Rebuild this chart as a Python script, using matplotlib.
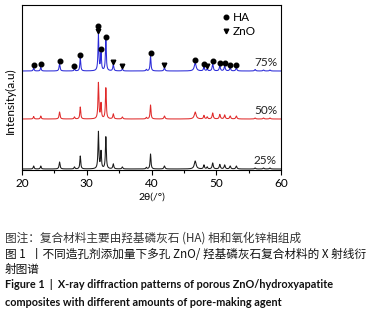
import numpy as np
import matplotlib
matplotlib.use("Agg")
import matplotlib.pyplot as plt
from matplotlib.lines import Line2D

# peak positions (2theta) and heights
peak_pos = [21.8, 22.9, 25.8, 28.1, 29.0, 31.8, 32.2, 32.95, 34.1, 35.5, 39.2,
            39.85, 42.0, 46.75, 48.1, 48.6, 49.45, 50.55, 51.3, 52.15, 53.1,
            56.0, 57.3, 58.3]
peak_w = [0.08, 0.08, 0.09, 0.08, 0.08, 0.08, 0.08, 0.08, 0.09, 0.09, 0.08,
          0.08, 0.1, 0.17, 0.09, 0.08, 0.1, 0.1, 0.1, 0.1, 0.1, 0.1, 0.1, 0.1]
h75 = [3, 3.5, 7, 2, 13, 36, 17, 31, 6, 2, 1.5, 15, 3, 8, 4, 2, 7, 5, 5, 3, 3, 1.5, 1, 1]
h50 = [2.5, 3, 7, 2, 12, 36, 15, 31, 5, 2, 1.5, 14, 3, 7, 3.5, 2, 6, 4.5, 4, 3, 3, 1, 1, 1]
h25 = [3, 3, 7, 2, 13, 37, 17, 32, 5, 2, 1.5, 15, 3, 8, 4, 2, 6, 4.5, 4, 3, 3, 1, 1, 1]
series = [("75%", h75, 99, "#2b2bd8"),
          ("50%", h50, 51, "#e02a2a"),
          ("25%", h25, 1, "#1a1a1a")]

ha_pos = [21.8, 22.9, 25.8, 28.1, 29.0, 31.8, 32.2, 32.95, 39.85, 46.75, 48.1,
          49.45, 50.55, 51.3, 52.15, 53.1]
zno_pos = [31.8, 34.1, 35.5, 42.0, 48.6]

x = np.linspace(20, 60, 4000)


def pattern(heights):
    y = np.zeros_like(x)
    for p, w, h in zip(peak_pos, peak_w, heights):
        y += h / (1 + ((x - p) / w) ** 2)
    return y


fig = plt.figure(figsize=(3.73, 3.13), dpi=100)
ax = fig.add_axes([22 / 373, 1 - 170 / 313, 259 / 373, 165 / 313])

lat = ["Lato", "DejaVu Sans"]
for label, h, base, col in series:
    y = pattern(h) + base
    ax.plot(x, y, color=col, lw=0.75)
    ax.text(57.6, base + 8, label, ha="center", va="center", fontsize=8.5,
            family=lat, color="#222222")

# phase markers on the top pattern
top = pattern(h75) + 99
for p in ha_pos:
    yy = np.interp(p, x, top)
    off = 8 if p in zno_pos else 3
    ax.plot(p, yy + off, "o", color="black", ms=3.3)
for p in zno_pos:
    yy = np.interp(p, x, top)
    ax.plot(p, yy + 3, "v", color="black", ms=3.3)

handles = [Line2D([], [], ls="", marker="o", color="black", ms=3.3),
           Line2D([], [], ls="", marker="v", color="black", ms=3.3)]
ax.legend(handles, ["HA", "ZnO"], loc="upper left", bbox_to_anchor=(0.735, 1.02),
          frameon=False, handlelength=0.5, handletextpad=0.3, labelspacing=0.2,
          prop={"family": lat, "size": 8.5})

ax.set_xlim(20, 60)
ax.set_ylim(0, 165)
ax.set_yticks([])
ax.set_xticks([20, 30, 40, 50, 60])
ax.set_xticks([25, 35, 45, 55], minor=True)
ax.tick_params(axis="x", direction="out", length=3.5, width=0.8, labelsize=8.5, pad=2)
ax.tick_params(axis="x", which="minor", length=2, width=0.8)
for lab in ax.get_xticklabels():
    lab.set_family(lat)
for s in ax.spines.values():
    s.set_linewidth(0.8)
ax.set_xlabel("2θ(/°)", fontsize=7.5, family=lat, labelpad=3)
ax.set_ylabel("Intensity(a.u)", fontsize=8.5, family=lat)
ax.yaxis.set_label_coords(-0.025, 0.42)

cjk = ["Noto Sans CJK SC", "DejaVu Sans"]
fig.text(5 / 373, 1 - 238 / 313, "图注：复合材料主要由羟基磷灰石 (HA) 相和氧化锌相组成",
         fontsize=8.4, family=cjk, color="#333333", va="center")
fig.text(5 / 373, 1 - 255 / 313, "图 1  丨不同造孔剂添加量下多孔 ZnO/ 羟基磷灰石复合材料的 X 射线衍",
         fontsize=8.4, family=cjk, color="#111111", va="center")
fig.text(5 / 373, 1 - 270 / 313, "射图谱",
         fontsize=8.4, family=cjk, color="#111111", va="center")
fig.text(5 / 373, 1 - 285 / 313, "Figure 1  |  X-ray diffraction patterns of porous ZnO/hydroxyapatite",
         fontsize=7.8, family=lat, weight="bold", color="#111111", va="center")
fig.text(5 / 373, 1 - 302 / 313, "composites with different amounts of pore-making agent",
         fontsize=7.8, family=lat, weight="bold", color="#111111", va="center")

fig.savefig("out.png", dpi=100)
